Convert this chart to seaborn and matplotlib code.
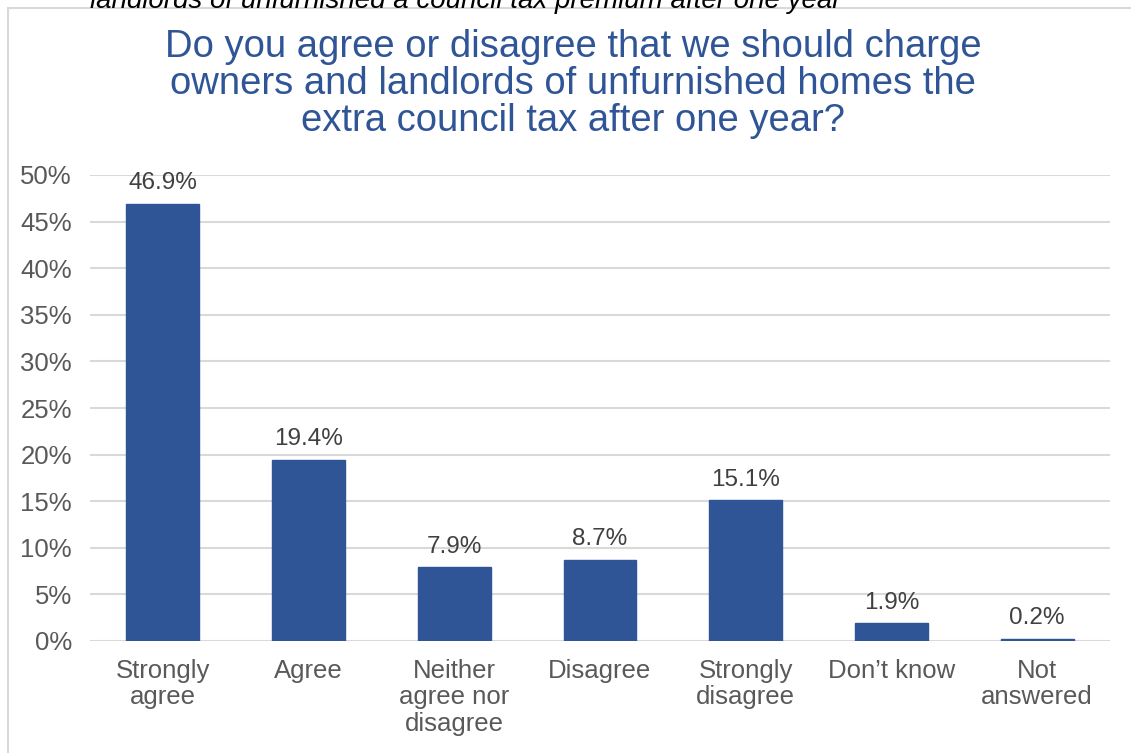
import pandas as pd
import matplotlib.pyplot as plt
import seaborn as sns
from matplotlib.patches import Rectangle

categories = ["Strongly\nagree", "Agree", "Neither\nagree nor\ndisagree", "Disagree",
              "Strongly\ndisagree", "Don\u2019t know", "Not\nanswered"]
values = [46.9, 19.4, 7.9, 8.7, 15.1, 1.9, 0.2]
yticks = [0, 5, 10, 15, 20, 25, 30, 35, 40, 45, 50]

title = ("Do you agree or disagree that we should charge\n"
         "owners and landlords of unfurnished homes the\n"
         "extra council tax after one year?")
cut_text = "landlords of unfurnished a council tax premium after one year"

df = pd.DataFrame({"answer": categories, "share": values})

sns.set_theme(style="white")
plt.rcParams['font.family'] = ['Liberation Sans', 'DejaVu Sans']

fig = plt.figure(figsize=(11.31, 7.53), dpi=100)
ax = fig.add_axes([90 / 1131, 1 - 641 / 753, (1110 - 90) / 1131, (641 - 175) / 753])

sns.barplot(data=df, x="answer", y="share", color="#2F5597", saturation=1,
            width=0.5, ax=ax, zorder=3, edgecolor="#2F5597", linewidth=1)

ax.set_ylim(0, 50)
ax.set_yticks(yticks)
ax.set_yticklabels([f"{t}%" for t in yticks])
ax.yaxis.grid(True, color="#D9D9D9", linewidth=1.5, zorder=0)
ax.set_xlabel("")
ax.set_ylabel("")
for s in ax.spines.values():
    s.set_visible(False)
ax.tick_params(axis="both", length=0, labelsize=18.5, colors="#595959")
ax.tick_params(axis="x", pad=13)
ax.tick_params(axis="y", pad=13)
for lbl in ax.get_xticklabels():
    lbl.set_linespacing(1.12)

for p, v in zip(ax.patches, values):
    ax.annotate(f"{v}%", (p.get_x() + p.get_width() / 2, p.get_height()),
                xytext=(0, 7), textcoords="offset points", ha="center", va="bottom",
                fontsize=17.5, color="#404040")

fig.text(573 / 1131, 1 - 84 / 753, title, ha="center", va="center", fontsize=27.5,
         color="#2F5597", linespacing=1.04)

# frame of the chart area
fig.patches.append(Rectangle((8 / 1131, -0.1), 1.2, 1 - 8 / 753 + 0.1,
                             transform=fig.transFigure, fill=False,
                             edgecolor="#D9D9D9", linewidth=1.5))
# cut-off line of text above the chart (cropped in the reference too)
fig.text(90 / 1131, 1 - 1 / 753, cut_text, ha="left", va="center", fontsize=20,
         style="italic", color="#000000")

fig.savefig("out.png", dpi=100)
